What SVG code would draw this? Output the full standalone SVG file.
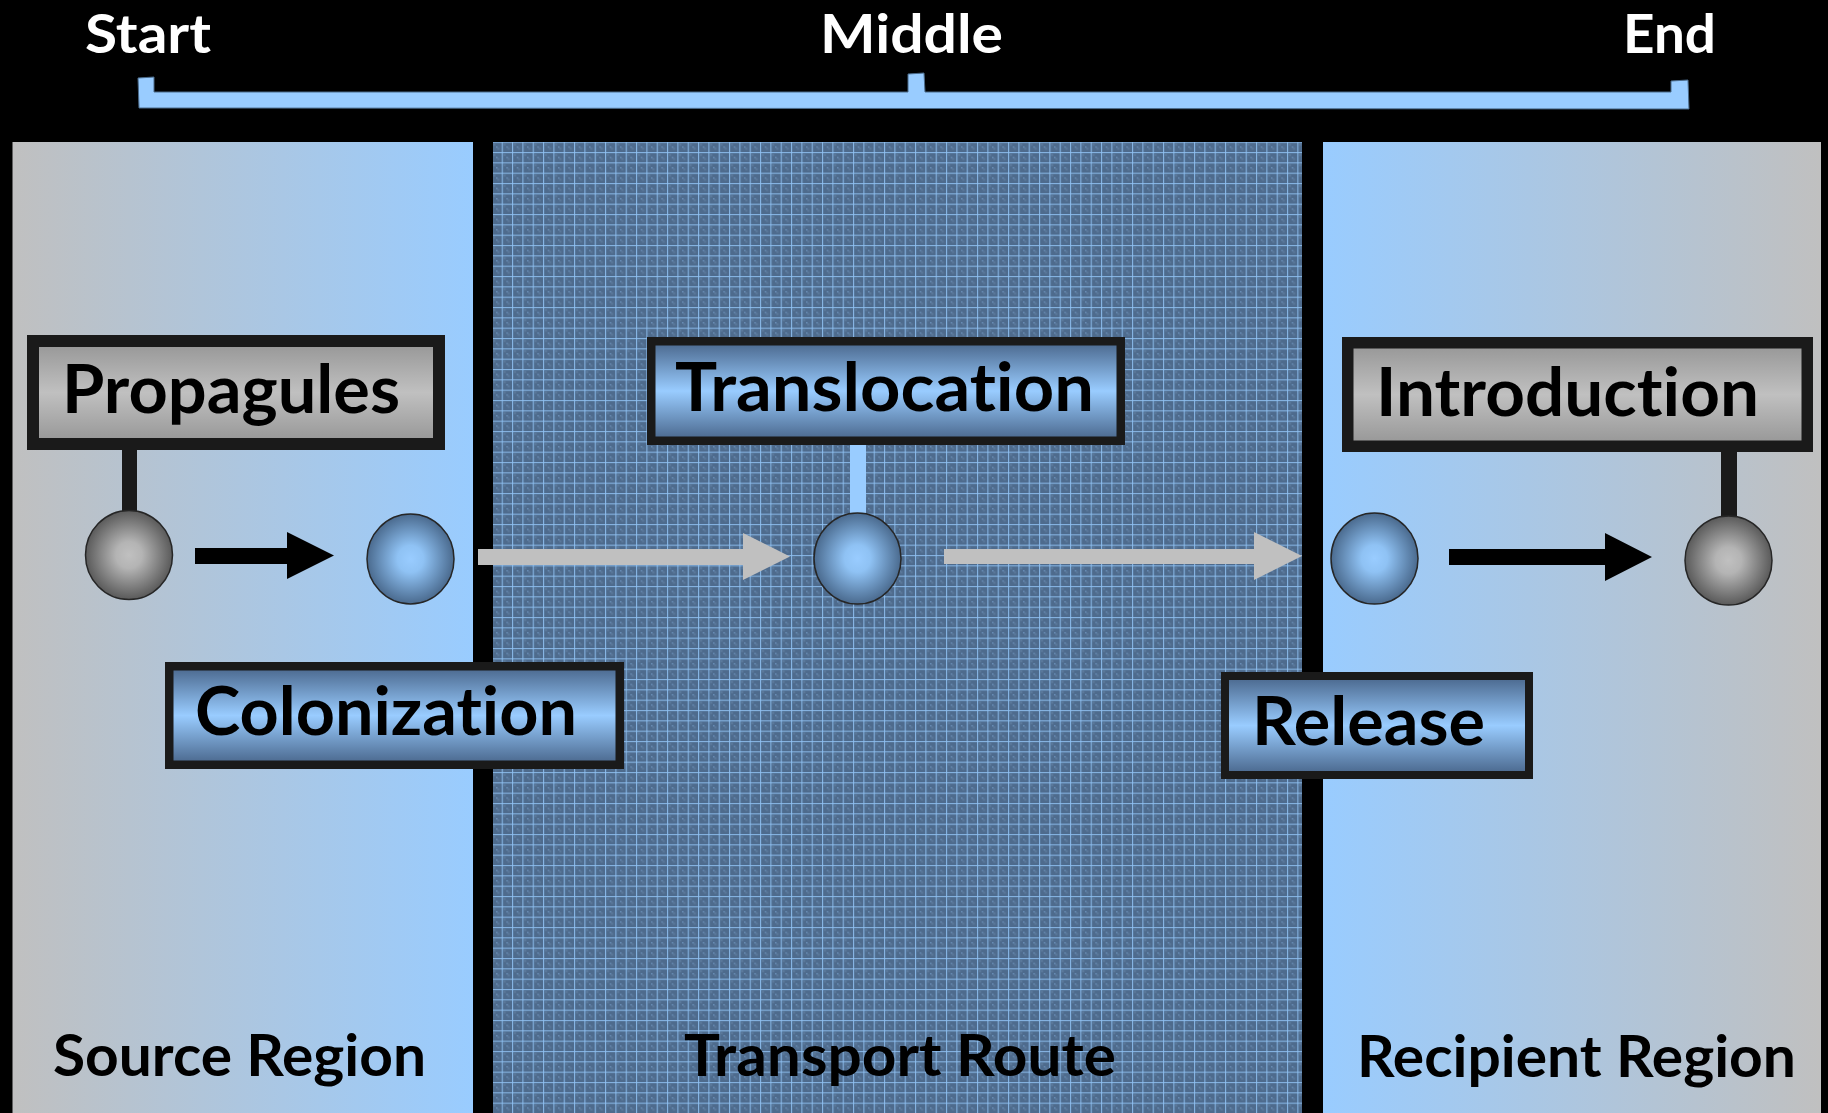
<svg xmlns="http://www.w3.org/2000/svg" width="1828" height="1113" viewBox="0 0 1828 1113">
<defs>
<linearGradient id="gLeft" x1="0" y1="0" x2="1" y2="0"><stop offset="0" stop-color="#c0c0c0"/><stop offset="1" stop-color="#99ccff"/></linearGradient>
<linearGradient id="gRight" x1="0" y1="0" x2="1" y2="0"><stop offset="0" stop-color="#99ccff"/><stop offset="1" stop-color="#c0c0c0"/></linearGradient>
<linearGradient id="gGrayBox" x1="0" y1="0" x2="0" y2="1"><stop offset="0" stop-color="#959595"/><stop offset="0.5" stop-color="#c0c0c0"/><stop offset="1" stop-color="#959595"/></linearGradient>
<linearGradient id="gBlueBox" x1="0" y1="0" x2="0" y2="1"><stop offset="0" stop-color="#48658a"/><stop offset="0.5" stop-color="#99ccff"/><stop offset="1" stop-color="#48658a"/></linearGradient>
<radialGradient id="gBlueBall" cx="0.5" cy="0.5" r="0.5"><stop offset="0" stop-color="#99ccff"/><stop offset="0.3" stop-color="#8fc2f4"/><stop offset="1" stop-color="#4a6a8e"/></radialGradient>
<radialGradient id="gGrayBall" cx="0.5" cy="0.5" r="0.5"><stop offset="0" stop-color="#c0c0c0"/><stop offset="0.3" stop-color="#b4b4b4"/><stop offset="1" stop-color="#5a5a5a"/></radialGradient>
<pattern id="grid" patternUnits="userSpaceOnUse" x="501.7" y="152" width="10.333" height="10.333">
<rect width="10.333" height="10.333" fill="#4e6b8d"/>
<rect x="2" y="2" width="2" height="2" fill="#5c7a9c"/>
<rect x="6" y="6" width="2" height="2" fill="#5c7a9c"/>
<rect x="5" y="5" width="1" height="1" fill="#86b6e6"/>
<rect x="0" y="0" width="1.1" height="10.333" fill="#8fc1f2" opacity="0.85"/>
<rect x="0" y="0" width="10.333" height="1.1" fill="#8fc1f2" opacity="0.85"/>
</pattern>
<style>
text{font-variant-ligatures:none;font-feature-settings:"liga" 0,"clig" 0,"dlig" 0;letter-spacing:0.01px;}
.lbl{font-family:Lato,"Open Sans","Liberation Sans",sans-serif;font-weight:bold;fill:#000;}
.top{font-family:Lato,"Open Sans","Liberation Sans",sans-serif;font-weight:bold;fill:#fff;font-size:53px;}
.box{font-size:66px;}
.reg{font-size:57px;}
.frame{stroke:#1a1a1a;}
.ball{stroke:#262626;stroke-width:1.5;}
</style>
</defs>
<rect x="0" y="0" width="1828" height="1113" fill="#000"/>
<g id="panels">
<rect id="source-panel" x="12.5" y="142" width="460.5" height="971" fill="url(#gLeft)"/>
<rect id="transport-panel" x="493" y="142" width="809" height="971" fill="url(#grid)"/>
<rect id="recipient-panel" x="1323" y="142" width="498" height="971" fill="url(#gRight)"/>
</g>
<g id="top-labels">
<text class="top" x="85" y="53" textLength="126" lengthAdjust="spacingAndGlyphs">Start</text>
<text class="top" x="820" y="53" textLength="183" lengthAdjust="spacingAndGlyphs">Middle</text>
<text class="top" x="1623" y="53" textLength="93" lengthAdjust="spacingAndGlyphs">End</text>
</g>
<g id="bracket">
<path d="M138,78 L154,77 L154,92 L908,92 L908,74 L924,73 L925,92 L1671,92 L1671,81 L1688,80 L1689,109 L139,108 Z" fill="#99ccff" stroke="#4a6a8a" stroke-width="1"/>
</g>
<g id="connectors">
<rect x="122" y="448" width="15" height="64" fill="#1a1a1a"/>
<rect x="850" y="443" width="16" height="72" fill="#99ccff"/>
<rect x="1721" y="450" width="16" height="68" fill="#1a1a1a"/>
<polygon points="195,548 287,548 287,532 334,555.5 287,579 287,564 195,564" fill="#000"/>
<polygon points="478,549 743,549 743,533 790,556.5 743,580 743,565 478,565" fill="#c0c0c0"/>
<polygon points="944,549 1254,549 1254,532 1302,556 1254,580 1254,564 944,564" fill="#c0c0c0"/>
<polygon points="1449,549 1605,549 1605,533 1652,557 1605,581 1605,565 1449,565" fill="#000"/>
</g>
<g id="sphere-source-gray"><ellipse class="ball" cx="129" cy="555" rx="43.5" ry="44.5" fill="url(#gGrayBall)"/></g>
<g id="sphere-source-blue"><ellipse class="ball" cx="410.5" cy="559" rx="43.5" ry="45" fill="url(#gBlueBall)"/></g>
<g id="sphere-transport"><ellipse class="ball" cx="857.5" cy="558.5" rx="43.5" ry="45.5" fill="url(#gBlueBall)"/></g>
<g id="sphere-recipient-blue"><ellipse class="ball" cx="1374.5" cy="558.5" rx="43.5" ry="45.5" fill="url(#gBlueBall)"/></g>
<g id="sphere-recipient-gray"><ellipse class="ball" cx="1728.5" cy="560.5" rx="43.5" ry="44.5" fill="url(#gGrayBall)"/></g>
<g id="node-propagules">
<rect class="frame" x="33" y="341" width="406" height="103" fill="url(#gGrayBox)" stroke-width="12"/>
<text class="lbl box" x="62" y="413" textLength="338" lengthAdjust="spacingAndGlyphs">Propagules</text>
</g>
<g id="node-translocation">
<rect class="frame" x="651.25" y="341.25" width="469.5" height="99.5" fill="url(#gBlueBox)" stroke-width="8.5"/>
<text class="lbl box" x="675" y="411" textLength="419" lengthAdjust="spacingAndGlyphs">Translocation</text>
</g>
<g id="node-introduction">
<rect class="frame" x="1347.75" y="342.75" width="459.5" height="103.5" fill="url(#gGrayBox)" stroke-width="11.5"/>
<text class="lbl box" x="1376" y="416" textLength="383" lengthAdjust="spacingAndGlyphs">Introduction</text>
</g>
<g id="node-colonization">
<rect class="frame" x="169.25" y="666.25" width="450.5" height="98.5" fill="url(#gBlueBox)" stroke-width="8.5"/>
<text class="lbl box" x="195" y="735" textLength="382" lengthAdjust="spacingAndGlyphs">Colonization</text>
</g>
<g id="node-release">
<rect class="frame" x="1225" y="676" width="304" height="99" fill="url(#gBlueBox)" stroke-width="8"/>
<text class="lbl box" x="1252" y="745" textLength="233" lengthAdjust="spacingAndGlyphs">Release</text>
</g>
<g id="region-labels">
<text class="lbl reg" x="53" y="1076" textLength="373" lengthAdjust="spacingAndGlyphs">Source Region</text>
<text class="lbl reg" x="684" y="1076" textLength="432" lengthAdjust="spacingAndGlyphs">Transport Route</text>
<text class="lbl reg" x="1357" y="1077" textLength="439" lengthAdjust="spacingAndGlyphs">Recipient Region</text>
</g>
</svg>
